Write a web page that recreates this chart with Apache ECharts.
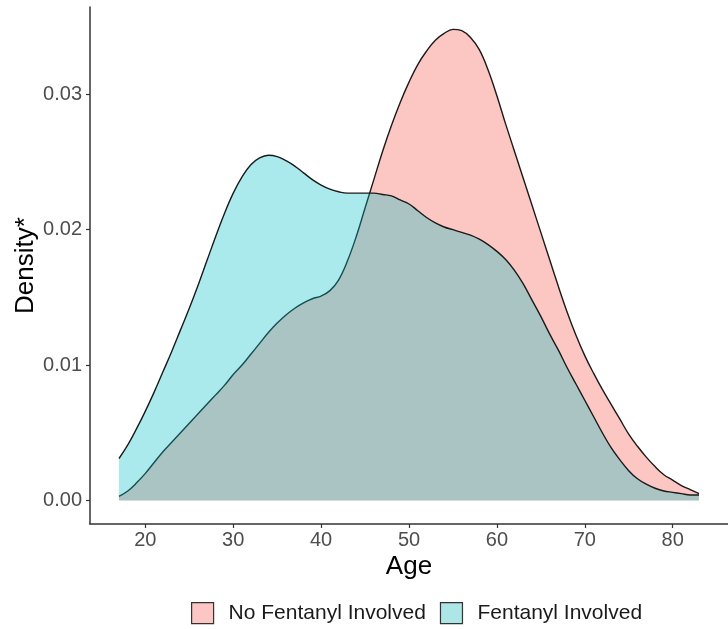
<!DOCTYPE html>
<html>
<head>
<meta charset="utf-8">
<style>
  html, body { margin: 0; padding: 0; background: #ffffff; }
  #chart { width: 728px; height: 629px; }
</style>
<script src="https://cdn.jsdelivr.net/npm/echarts@6/dist/echarts.min.js"></script>
</head>
<body>
<div id="chart"></div>
<script>
// Ages (years) at which density was read
const ages = [17,18,19,20,21,22,23,24,25,26,27,28,29,30,31,32,33,34,35,36,37,38,39,40,
  41,42,43,44,45,46,47,48,49,50,51,52,53,54,55,56,57,58,59,60,61,62,63,64,65,66,67,68,69,70,
  71,72,73,74,75,76,77,78,79,80,81,82,83];

// Density, No Fentanyl Involved
const noFentanyl = [0.0003,0.0007,0.0013,0.0020,0.0028,0.0036,0.0043,0.0050,0.0057,0.0064,
  0.0071,0.0078,0.0085,0.0093,0.0100,0.0108,0.0116,0.0124,0.0131,0.0137,
  0.0142,0.0146,0.0149,0.0151,0.0155,0.0163,0.0177,0.0195,0.0216,0.0237,
  0.0258,0.0277,0.0294,0.0309,0.0322,0.0332,0.0340,0.0345,0.0348,0.0347,
  0.0342,0.0333,0.0318,0.0299,0.0278,0.0258,0.0238,0.0218,0.0198,0.0178,
  0.0158,0.0139,0.0122,0.0107,0.0094,0.0082,0.0071,0.0060,0.0049,0.0040,
  0.0032,0.0025,0.0019,0.0015,0.0011,0.0008,0.0005];

// Density, Fentanyl Involved
const fentanyl = [0.0031,0.0041,0.0053,0.0066,0.0080,0.0095,0.0110,0.0126,0.0142,0.0159,
  0.0177,0.0195,0.0212,0.0227,0.0239,0.0248,0.0253,0.0255,0.0254,0.0251,
  0.0247,0.0242,0.0237,0.0233,0.0230,0.0228,0.0227,0.0227,0.0227,0.0227,
  0.0226,0.0225,0.0222,0.0219,0.0214,0.0209,0.0205,0.0202,0.0200,0.0198,
  0.0196,0.0193,0.0189,0.0184,0.0178,0.0170,0.0160,0.0148,0.0136,0.0123,
  0.0111,0.0098,0.0086,0.0074,0.0062,0.0050,0.0039,0.0030,0.0022,0.0016,
  0.0012,0.0009,0.0007,0.0006,0.0005,0.0004,0.0004];

const xTicks = [20,30,40,50,60,70,80];
const yTicks = [0, 0.01, 0.02, 0.03];
const seriesNames = ['No Fentanyl Involved', 'Fentanyl Involved'];

const FONT = '"Liberation Sans", Arial, Helvetica, sans-serif';
const pinkFill = 'rgba(248,118,109,0.42)';
const tealFill = 'rgba(0,191,196,0.33)';

const chart = echarts.init(document.getElementById('chart'), null, {renderer: 'canvas'});

function pairs(xs, ys) { return xs.map((x, i) => [x, ys[i]]); }

chart.setOption({
  animation: false,
  backgroundColor: '#ffffff',
  grid: { left: 90, right: -8, top: 7, bottom: 105, containLabel: false },
  xAxis: {
    type: 'value',
    min: 13.7,
    max: 86.3,
    name: 'Age',
    nameLocation: 'middle',
    nameGap: 30,
    nameMoveOverlap: false,
    nameTextStyle: { fontFamily: FONT, fontSize: 26, color: '#000000' },
    axisLine: { show: true, onZero: false, lineStyle: { color: '#333333', width: 1.5 } },
    axisTick: { show: true, length: 4, customValues: xTicks, lineStyle: { color: '#333333', width: 1.2 } },
    axisLabel: { customValues: xTicks, margin: 6, fontFamily: FONT, fontSize: 20, color: '#4D4D4D' },
    splitLine: { show: false }
  },
  yAxis: {
    type: 'value',
    min: -0.00174,
    max: 0.03645,
    name: 'Density*',
    nameLocation: 'middle',
    nameGap: 51,
    nameMoveOverlap: false,
    nameTextStyle: { fontFamily: FONT, fontSize: 26, color: '#000000' },
    axisLine: { show: true, onZero: false, lineStyle: { color: '#333333', width: 1.5 } },
    axisTick: { show: true, length: 4, customValues: yTicks, lineStyle: { color: '#333333', width: 1.2 } },
    axisLabel: { customValues: yTicks, margin: 8, fontFamily: FONT, fontSize: 20, color: '#4D4D4D',
      formatter: v => v.toFixed(2) },
    splitLine: { show: false }
  },
  legend: {
    left: 191,
    top: 602,
    padding: 0,
    orient: 'horizontal',
    itemWidth: 22,
    itemHeight: 21,
    itemGap: 14,
    textStyle: { fontFamily: FONT, fontSize: 21, color: '#1a1a1a', padding: [0, 0, 0, 10] },
    data: [
      { name: seriesNames[0], icon: 'rect', itemStyle: { color: '#FBC6C4', borderColor: '#333333', borderWidth: 1.2 } },
      { name: seriesNames[1], icon: 'rect', itemStyle: { color: '#ADE6E7', borderColor: '#333333', borderWidth: 1.2 } }
    ]
  },
  series: [
    {
      name: seriesNames[0],
      type: 'line',
      data: pairs(ages, noFentanyl),
      smooth: 0.4,
      symbol: 'none',
      showSymbol: false,
      itemStyle: { color: pinkFill },
      lineStyle: { color: '#1a1a1a', width: 1.4 },
      areaStyle: { color: pinkFill, opacity: 1, origin: 0 },
      z: 2
    },
    {
      name: seriesNames[1],
      type: 'line',
      data: pairs(ages, fentanyl),
      smooth: 0.4,
      symbol: 'none',
      showSymbol: false,
      itemStyle: { color: tealFill },
      lineStyle: { color: '#1a1a1a', width: 1.4 },
      areaStyle: { color: tealFill, opacity: 1, origin: 0 },
      z: 3
    }
  ]
});
</script>
</body>
</html>
